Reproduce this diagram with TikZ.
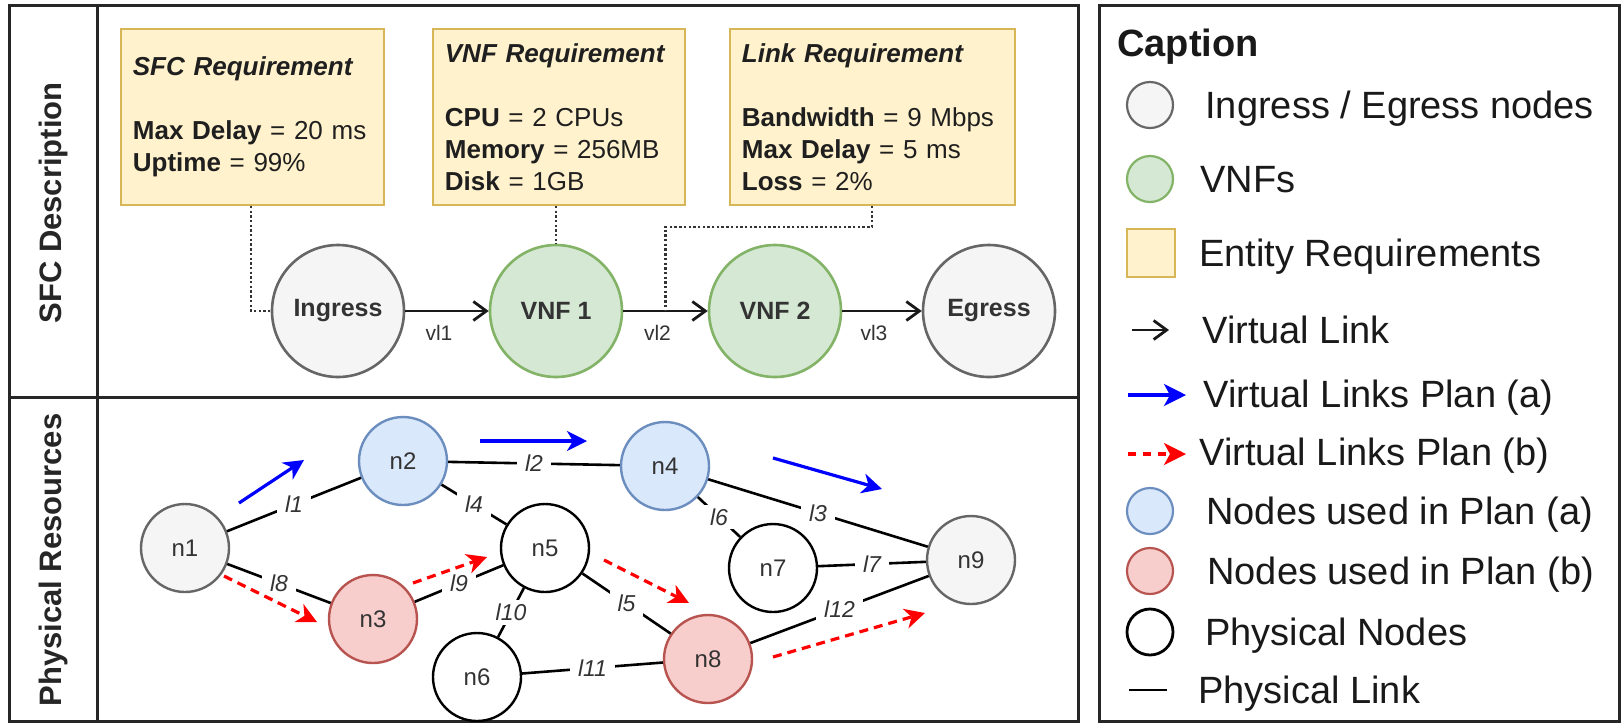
\documentclass[tikz,border=0pt]{standalone}
\usepackage{fontspec}
\setmainfont{Liberation Sans}
\usetikzlibrary{arrows.meta,calc}

\definecolor{reqfill}{HTML}{FFF2CC}
\definecolor{reqdraw}{HTML}{D6B656}
\definecolor{vnffill}{HTML}{D5E8D4}
\definecolor{vnfdraw}{HTML}{82B366}
\definecolor{iofill}{HTML}{F5F5F5}
\definecolor{iodraw}{HTML}{666666}
\definecolor{afill}{HTML}{DAE8FC}
\definecolor{adraw}{HTML}{6C8EBF}
\definecolor{bfill}{HTML}{F8CECC}
\definecolor{bdraw}{HTML}{B85450}
\definecolor{txt}{HTML}{333333}

\tikzset{
  panel/.style={draw=black!85, line width=1.5pt},
  sidelabel/.style={rotate=90, font=\fontsize{15.5}{18}\selectfont\bfseries, text=black!85},
  req/.style={draw=reqdraw, fill=reqfill, line width=0.9pt, anchor=north west,
    minimum height=88pt, inner xsep=6pt, align=left, text width=#1,
    font=\fontsize{13}{16}\selectfont, text=black!88},
  chainnode/.style={circle, minimum size=66pt, inner sep=0pt, line width=1.3pt,
    text=txt, font=\fontsize{12.5}{15}\selectfont\bfseries},
  io/.style={chainnode, draw=iodraw, fill=iofill},
  vnf/.style={chainnode, draw=vnfdraw, fill=vnffill},
  vlink/.style={line width=1.4pt, black!90, -{Straight Barb[length=6.5pt,width=9.5pt]}},
  vlabel/.style={midway, yshift=-11pt, xshift=-4pt, font=\fontsize{10.5}{12}\selectfont, text=txt},
  dotline/.style={line width=1.3pt, black!80, dash pattern=on 1.2pt off 1.15pt},
  phys/.style={circle, minimum size=44pt, inner sep=0pt, line width=1.2pt,
    font=\fontsize{12}{14}\selectfont, text=txt, draw=black, fill=white},
  physa/.style={phys, draw=adraw, fill=afill},
  physb/.style={phys, draw=bdraw, fill=bfill},
  physio/.style={phys, draw=iodraw, fill=iofill},
  plink/.style={line width=1.3pt, black},
  plabel/.style={midway, fill=white, inner xsep=4pt, inner ysep=2pt,
    font=\fontsize{11.5}{13}\selectfont\itshape, text=txt},
  plana/.style={line width=1.6pt, blue, -{Stealth[length=10pt,width=10pt,inset=3pt]}},
  planb/.style={line width=1.6pt, red, dash pattern=on 4.5pt off 3pt,
    -{Stealth[length=10pt,width=10pt,inset=3pt]}},
  legtext/.style={anchor=west, font=\fontsize{19}{22}\selectfont, text=black!90,
    text height=13.6pt, text depth=0pt, inner sep=0pt},
  legdot/.style={circle, minimum size=23pt, inner sep=0pt, line width=1.1pt},
}

\begin{document}
\begin{tikzpicture}[x=0.5pt, y=-0.5pt]
\useasboundingbox (0,0) rectangle (1623,725);
\fill[white] (0,0) rectangle (1623,725);

% ---------- frames ----------
\draw[panel] (9,5) rectangle (1078,721);
\draw[panel] (97,5) -- (97,721);
\draw[panel] (9,397) -- (1078,397);
\draw[panel] (1099,5) rectangle (1619,721);

\node[sidelabel] (sfctitle) at (53,203) {SFC Description};
\node[sidelabel] (phystitle) at (53,560) {Physical Resources};

% ---------- requirement boxes ----------
\node[req=119.5pt] (sfcreq) at (120,28)
  {\textbf{\textit{SFC Requirement}}\\[16pt]
   \textbf{Max Delay} = 20 ms\\
   \textbf{Uptime} = 99\%};
\node[req=114pt] (vnfreq) at (432,28)
  {\textbf{\textit{VNF Requirement}}\\[16pt]
   \textbf{CPU} = 2 CPUs\\
   \textbf{Memory} = 256MB\\
   \textbf{Disk} = 1GB};
\node[req=130.5pt] (linkreq) at (729,28)
  {\textbf{\textit{Link Requirement}}\\[16pt]
   \textbf{Bandwidth} = 9 Mbps\\
   \textbf{Max Delay} = 5 ms\\
   \textbf{Loss} = 2\%};

% ---------- service function chain ----------
\node[io]  (ingress) at (338,311) {Ingress};
\node[vnf] (vnf1)    at (556,311) {VNF 1};
\node[vnf] (vnf2)    at (775,311) {VNF 2};
\node[io]  (egress)  at (989,311) {Egress};

\draw[vlink] (ingress) -- node[vlabel] {vl1} (vnf1);
\draw[vlink] (vnf1) -- node[vlabel] {vl2} (vnf2);
\draw[vlink] (vnf2) -- node[vlabel] {vl3} (egress);

\coordinate (vl2mid) at ($(vnf1.east)!0.5!(vnf2.west)$);
\draw[dotline] ([xshift=65.5pt]sfcreq.south west) |- (ingress.west);
\draw[dotline] (vnf1.north |- vnfreq.south) -- (vnf1.north);
\draw[dotline] ([xshift=71.5pt]linkreq.south west) -- ++(0,21) -| (vl2mid);

% ---------- physical network ----------
\node[physio] (n1) at (185,548) {n1};
\node[physa]  (n2) at (403,461) {n2};
\node[physb]  (n3) at (373,619) {n3};
\node[physa]  (n4) at (665,466) {n4};
\node[phys]   (n5) at (545,548) {n5};
\node[phys]   (n6) at (477,677) {n6};
\node[phys]   (n7) at (773,568) {n7};
\node[physb]  (n8) at (708,659) {n8};
\node[physio] (n9) at (971,560) {n9};

\draw[plink] (n1) -- node[plabel] {l1} (n2);
\draw[plink] (n2) -- node[plabel] {l2} (n4);
\draw[plink] (n4) -- node[plabel] {l3} (n9);
\draw[plink] (n2) -- node[plabel] {l4} (n5);
\draw[plink] (n5) -- node[plabel] {l5} (n8);
\draw[plink] (n4) -- node[plabel] {l6} (n7);
\draw[plink] (n7) -- node[plabel] {l7} (n9);
\draw[plink] (n1) -- node[plabel] {l8} (n3);
\draw[plink] (n3) -- node[plabel] {l9} (n5);
\draw[plink] (n6) -- node[plabel] {l10} (n5);
\draw[plink] (n6) -- node[plabel] {l11} (n8);
\draw[plink] (n8) -- node[plabel] {l12} (n9);

% plan (a) virtual links
\coordinate (a1s) at (239,503); \coordinate (a1e) at (304,460);
\coordinate (a2s) at (480,441); \coordinate (a2e) at (587,441);
\coordinate (a3s) at (773,458); \coordinate (a3e) at (882,489);
\draw[plana] (a1s) -- (a1e);
\draw[plana] (a2s) -- (a2e);
\draw[plana] (a3s) -- (a3e);

% plan (b) virtual links
\coordinate (b1s) at (224,576); \coordinate (b1e) at (317,622);
\coordinate (b2s) at (413,583); \coordinate (b2e) at (487,557);
\coordinate (b3s) at (604,560); \coordinate (b3e) at (689,603);
\coordinate (b4s) at (773,657); \coordinate (b4e) at (925,613);
\draw[planb] (b1s) -- (b1e);
\draw[planb] (b2s) -- (b2e);
\draw[planb] (b3s) -- (b3e);
\draw[planb] (b4s) -- (b4e);

% ---------- legend ----------
\node[legtext, font=\fontsize{19}{22}\selectfont\bfseries] (legtitle) at (1117,43) {Caption};

\node[legdot, draw=iodraw, fill=iofill] (lgio) at (1150,105) {};
\node[legtext] (lgiot) at (1205,105) {Ingress / Egress nodes};

\node[legdot, draw=vnfdraw, fill=vnffill] (lgvnf) at (1150,179) {};
\node[legtext] (lgvnft) at (1200,179) {VNFs};

\node[draw=reqdraw, fill=reqfill, minimum size=24pt, inner sep=0pt, line width=1.1pt]
  (lgreq) at (1151,253) {};
\node[legtext] (lgreqt) at (1199,253) {Entity Requirements};

\coordinate (lgvls) at (1132,330); \coordinate (lgvle) at (1169,330);
\draw[vlink] (lgvls) -- (lgvle);
\node[legtext] (lgvlt) at (1202,330) {Virtual Link};

\coordinate (lgas) at (1128,395); \coordinate (lgae) at (1186,395);
\draw[plana, -{Stealth[length=11pt,width=11pt,inset=3pt]}] (lgas) -- (lgae);
\node[legtext] (lgat) at (1203,394) {Virtual Links Plan (a)};

\coordinate (lgbs) at (1128,454); \coordinate (lgbe) at (1186,454);
\draw[planb, dash pattern=on 4pt off 3.5pt, -{Stealth[length=11pt,width=11pt,inset=3pt]}] (lgbs) -- (lgbe);
\node[legtext] (lgbt) at (1199,452) {Virtual Links Plan (b)};

\node[legdot, draw=adraw, fill=afill] (lgna) at (1150,511) {};
\node[legtext] (lgnat) at (1206,511) {Nodes used in Plan (a)};

\node[legdot, draw=bdraw, fill=bfill] (lgnb) at (1150,571) {};
\node[legtext] (lgnbt) at (1207,571) {Nodes used in Plan (b)};

\node[legdot, draw=black, fill=white, line width=1.4pt] (lgpn) at (1150,632) {};
\node[legtext] (lgpnt) at (1205,632) {Physical Nodes};

\coordinate (lgpls) at (1129,690); \coordinate (lgple) at (1167,690);
\draw[line width=1.4pt] (lgpls) -- (lgple);
\node[legtext] (lgplt) at (1198,690) {Physical Link};
\end{tikzpicture}
\end{document}
